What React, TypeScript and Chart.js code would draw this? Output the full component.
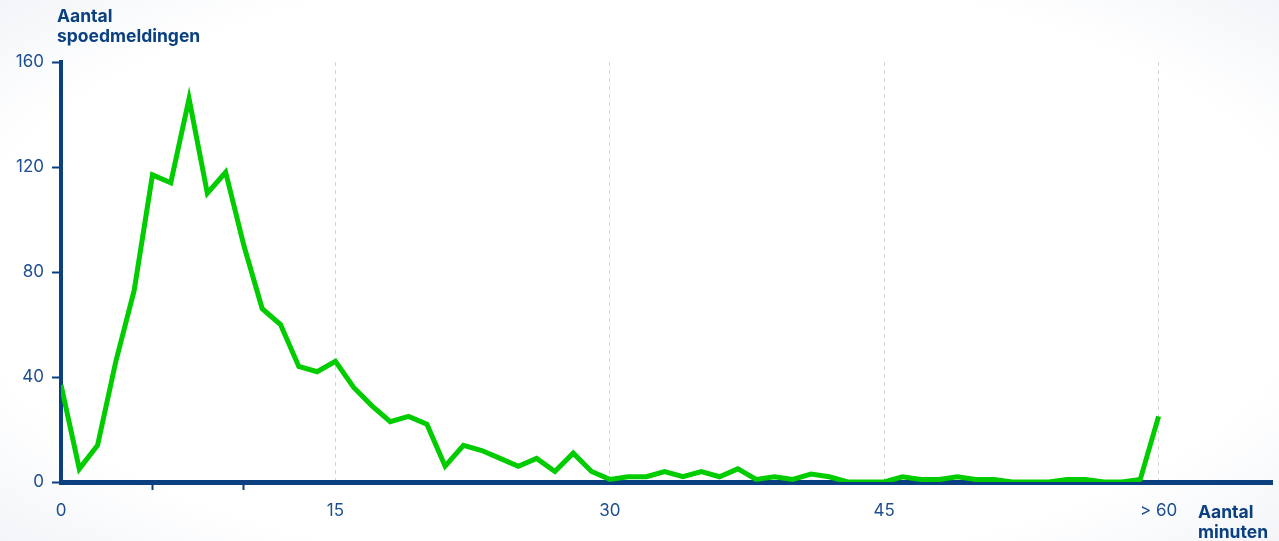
import React, { useEffect, useRef } from "react";
import { Chart, registerables } from "chart.js";

Chart.register(...registerables);

const minutes: number[] = Array.from({ length: 61 }, (_, i) => i);
const meldingen: number[] = [
  37, 5, 14, 46, 73, 117, 114, 146, 110, 118,
  90, 66, 60, 44, 42, 46, 36, 29, 23, 25,
  22, 6, 14, 12, 9, 6, 9, 4, 11, 4,
  1, 2, 2, 4, 2, 4, 2, 5, 1, 2,
  1, 3, 2, 0, 0, 0, 2, 1, 1, 2,
  1, 1, 0, 0, 0, 1, 1, 0, 0, 1,
  25,
];
const xLabelTicks: number[] = [0, 15, 30, 45, 60];
const xGridTicks: number[] = [15, 30, 45, 60];
const xMinorTicks: number[] = [5, 10];
const yTicks: number[] = [0, 40, 80, 120, 160];
const yTitle: string[] = ["Aantal", "spoedmeldingen"];
const xTitle: string[] = ["Aantal", "minuten"];

const NAVY = "#0a3f80";
const LABEL = "#1d4e8f";
const GREEN = "#00cc00";
const FONT = "Inter, 'Noto Sans', sans-serif";

export default function App() {
  const ref = useRef<HTMLCanvasElement | null>(null);

  useEffect(() => {
    document.body.style.margin = "0";
    const canvas = ref.current;
    if (!canvas) return;
    const chart = new Chart(canvas, {
      type: "line",
      data: {
        datasets: [
          {
            data: minutes.map((m, i) => ({ x: m, y: meldingen[i] })),
            borderColor: GREEN,
            borderWidth: 5,
            pointRadius: 0,
            tension: 0,
            fill: false,
            borderJoinStyle: "miter",
          },
        ],
      },
      options: {
        animation: false,
        responsive: false,
        maintainAspectRatio: false,
        layout: { padding: { left: 0, right: 7, top: 62, bottom: 0 } },
        plugins: { legend: { display: false }, tooltip: { enabled: false } },
        scales: {
          x: {
            type: "linear",
            min: 0,
            max: 66.2,
            afterBuildTicks: (scale: any) => {
              scale.ticks = [0, 5, 10, 15, 30, 45, 60].map((v) => ({ value: v }));
            },
            afterFit: (scale: any) => {
              scale.height = 59;
            },
            ticks: {
              autoSkip: false,
              maxRotation: 0,
              padding: 11,
              color: LABEL,
              font: { family: FONT, size: 17 },
              callback: (v: any) => {
                const n = Number(v);
                if (!xLabelTicks.includes(n)) return "";
                return n === 60 ? "> 60" : String(n);
              },
            },
            grid: {
              drawOnChartArea: true,
              color: (ctx: any) =>
                ctx.tick && xGridTicks.includes(ctx.tick.value) ? "#d4d4d4" : "rgba(0,0,0,0)",
              lineWidth: 1,
              tickLength: 8,
              tickWidth: 2,
              tickColor: (ctx: any) =>
                ctx.tick && xMinorTicks.includes(ctx.tick.value) ? NAVY : "rgba(0,0,0,0)",
            },
            border: { display: true, color: NAVY, width: 5, dash: [4, 4] },
          },
          y: {
            min: 0,
            max: 160,
            afterBuildTicks: (scale: any) => {
              scale.ticks = yTicks.map((v) => ({ value: v }));
            },
            afterFit: (scale: any) => {
              scale.width = 61;
            },
            ticks: {
              padding: 8,
              color: LABEL,
              font: { family: FONT, size: 17 },
            },
            grid: {
              drawOnChartArea: false,
              tickLength: 9,
              tickWidth: 2,
              tickColor: NAVY,
            },
            border: { display: true, color: NAVY, width: 4 },
          },
        },
      },
    });
    return () => chart.destroy();
  }, []);

  const titleStyle: React.CSSProperties = {
    position: "absolute",
    fontFamily: FONT,
    fontWeight: 700,
    fontSize: 17.5,
    lineHeight: "20px",
    color: NAVY,
    whiteSpace: "nowrap",
  };

  return (
    <div
      style={{
        position: "fixed",
        left: 0,
        top: 0,
        width: 1279,
        height: 541,
        overflow: "hidden",
        background:
          "radial-gradient(ellipse 75% 80% at 50% 50%, #ffffff 70%, #eef1f6 100%)",
      }}
    >
      <canvas ref={ref} width={1279} height={541} style={{ position: "absolute", left: 0, top: 0 }} />
      <div style={{ ...titleStyle, left: 57, top: 6 }}>
        {yTitle[0]}
        <br />
        {yTitle[1]}
      </div>
      <div style={{ ...titleStyle, left: 1198, top: 502 }}>
        {xTitle[0]}
        <br />
        {xTitle[1]}
      </div>
    </div>
  );
}
